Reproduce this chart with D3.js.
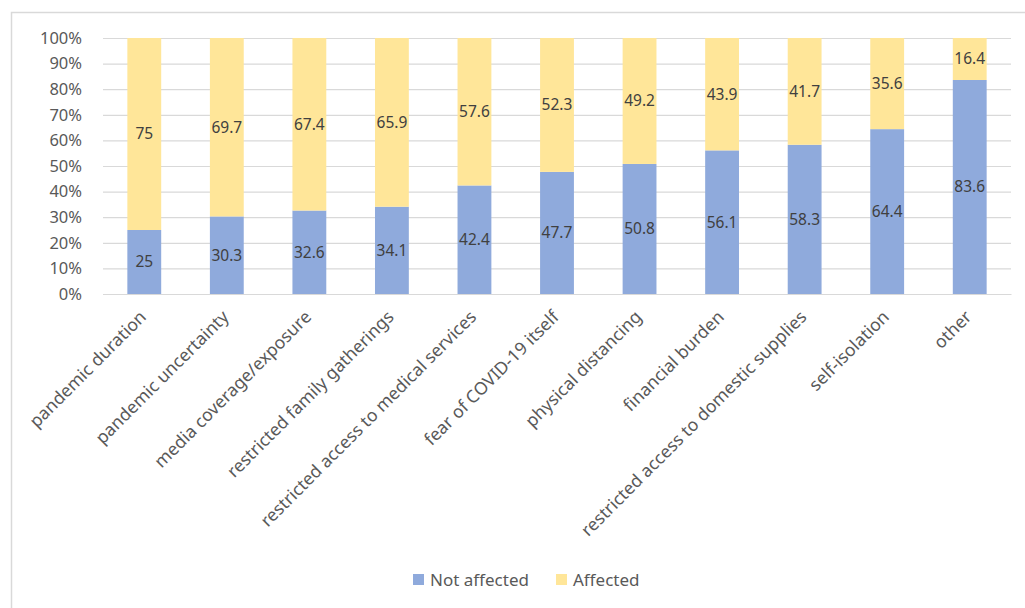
<!DOCTYPE html>
<html><head><meta charset="utf-8">
<script src="https://cdn.jsdelivr.net/npm/d3@7"></script>
<style>body{margin:0;background:#fff;}svg{display:block;}</style>
</head><body>
<svg id="c" width="1025" height="608"></svg>
<script>
const categories = ["pandemic duration","pandemic uncertainty","media coverage/exposure","restricted family gatherings","restricted access to medical services","fear of COVID-19 itself","physical distancing","financial burden","restricted access to domestic supplies","self-isolation","other"];
const notAffected = [25,30.3,32.6,34.1,42.4,47.7,50.8,56.1,58.3,64.4,83.6];
const affected = [75,69.7,67.4,65.9,57.6,52.3,49.2,43.9,41.7,35.6,16.4];
const yTicks = [0,10,20,30,40,50,60,70,80,90,100];
const seriesNames = ["Not affected","Affected"];
const colors = ["#8FAADC","#FFE699"];

const svg = d3.select("#c");
const font = "'Noto Sans', sans-serif";
// outer frame
svg.append("path").attr("d","M11.5,608 V12.5 H1025").attr("fill","none").attr("stroke","#d9d9d9").attr("stroke-width",1.5);

const x = d3.scaleBand().domain(categories).range([103,1011]).paddingInner(0.59).paddingOuter(0.295);
const y = d3.scaleLinear().domain([0,100]).range([294,38]);

const g = svg.append("g");
g.selectAll("line.grid").data(yTicks).join("line")
  .attr("x1",103).attr("x2",1011).attr("y1",d=>y(d)+0.5).attr("y2",d=>y(d)+0.5)
  .attr("stroke","#d9d9d9").attr("stroke-width",1.2);

const yAxis = d3.axisLeft(y).tickValues(yTicks).tickFormat(d=>d+"%").tickSize(0).tickPadding(0);
const ya = svg.append("g").attr("transform","translate(82,0)").call(yAxis);
ya.select(".domain").remove();
ya.selectAll("text").attr("font-family",font).attr("font-size",16.5).attr("fill","#595959");

const stackData = categories.map((c,i)=>({cat:c,"Not affected":notAffected[i],"Affected":affected[i]}));
const stacked = d3.stack().keys(seriesNames)(stackData);
stacked.forEach((s,si)=>{
  g.selectAll("rect.s"+si).data(s).join("rect")
    .attr("x",d=>x(d.data.cat)).attr("width",x.bandwidth())
    .attr("y",d=>y(d[1])).attr("height",d=>y(d[0])-y(d[1]))
    .attr("fill",colors[si]);
  g.selectAll("text.l"+si).data(s).join("text")
    .attr("x",d=>x(d.data.cat)+x.bandwidth()/2)
    .attr("y",d=>y((d[0]+d[1])/2))
    .attr("dy","0.35em").attr("text-anchor","middle")
    .attr("font-family",font).attr("font-size",15.5).attr("fill","#404040")
    .text(d=>d.data[seriesNames[si]]);
});

const xAxis = d3.axisBottom(x).tickSize(0).tickPadding(0);
const xa = svg.append("g").attr("transform","translate(0,294)").call(xAxis);
xa.select(".domain").attr("stroke","#d9d9d9").attr("stroke-width",1.2);
xa.selectAll("text").attr("font-family",font).attr("font-size",17.5).attr("fill","#595959")
  .attr("text-anchor","end").attr("dy",null).attr("y",0)
  .attr("transform","translate(3,24) rotate(-45)");

// legend
const leg = svg.append("g").attr("transform","translate(413,580)");
const lx = [0,143];
seriesNames.forEach((n,i)=>{
  leg.append("rect").attr("x",lx[i]).attr("y",-6).attr("width",11).attr("height",11).attr("fill",colors[i]);
  leg.append("text").attr("x",lx[i]+17).attr("y",0).attr("dy","0.35em")
    .attr("font-family",font).attr("font-size",17).attr("fill","#595959").text(n);
});
</script>
</body></html>
